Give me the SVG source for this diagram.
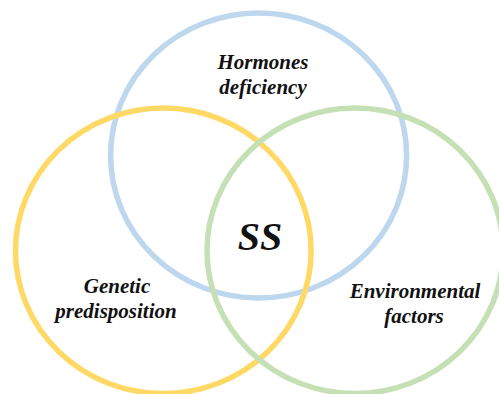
<svg xmlns="http://www.w3.org/2000/svg" width="499" height="394" viewBox="0 0 499 394">
<style>
.ring{fill:none;stroke-width:5.5}
.lbl{font-family:"Liberation Serif","Times New Roman",serif;font-weight:bold;font-style:italic;font-size:21px;fill:#111;text-anchor:middle}
.big{font-size:40px}
</style>
<rect width="499" height="394" fill="#fff"/>
<g id="hormones">
<ellipse class="ring" cx="258.6" cy="155.5" rx="148" ry="142.5" stroke="#BDD7EE"/>
<text class="lbl" x="263" y="69">Hormones</text>
<text class="lbl" x="263" y="94">deficiency</text>
</g>
<g id="genetic">
<ellipse class="ring" cx="163.3" cy="250.8" rx="147.8" ry="142.7" stroke="#FFD966"/>
<text class="lbl" x="117" y="293">Genetic</text>
<text class="lbl" x="116" y="318">predisposition</text>
</g>
<g id="environmental">
<ellipse class="ring" cx="355" cy="250.8" rx="148" ry="142.7" stroke="#C5E0B4"/>
<text class="lbl" x="415" y="298">Environmental</text>
<text class="lbl" x="414" y="323">factors</text>
</g>
<g id="ss">
<text class="lbl big" x="260" y="250">SS</text>
</g>
<g id="connectors"></g>
</svg>
